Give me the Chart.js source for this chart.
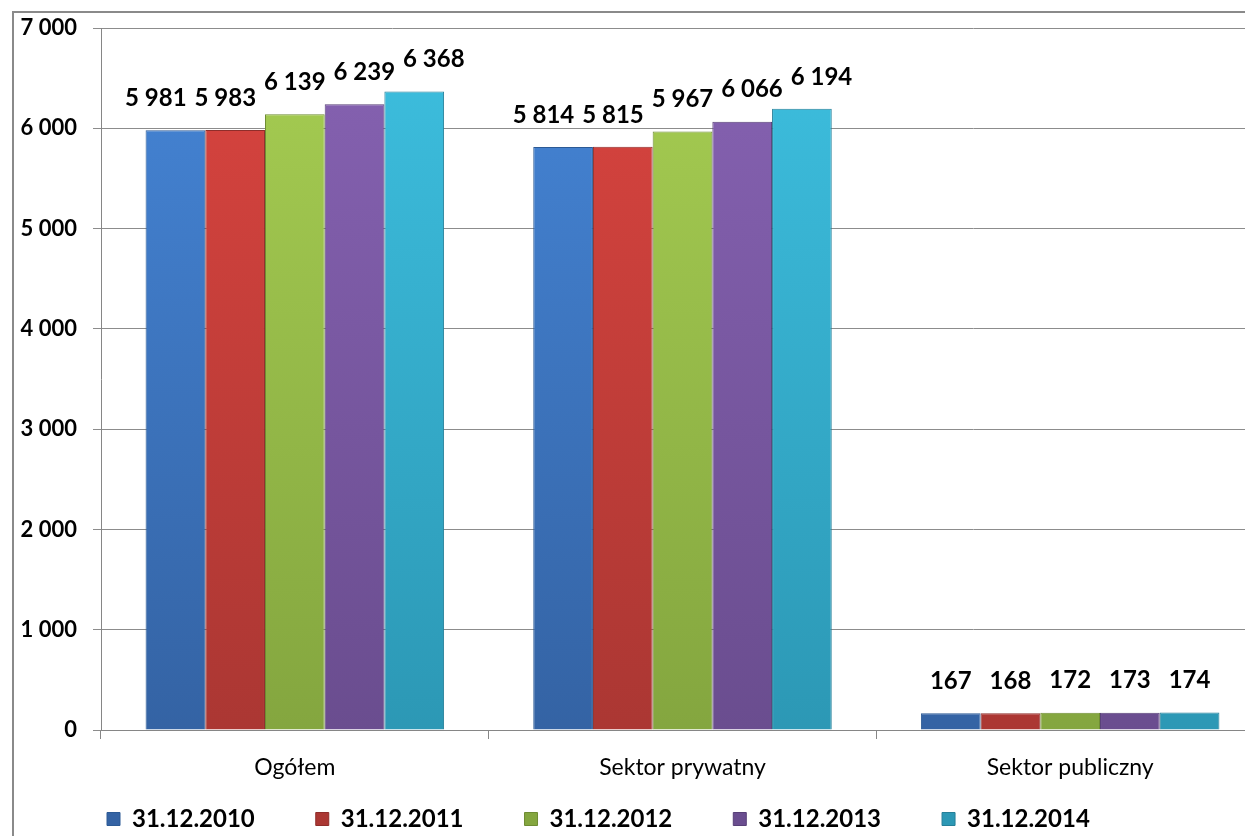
<!DOCTYPE html>
<html>
<head>
<meta charset="utf-8">
<script src="https://cdn.jsdelivr.net/npm/chart.js@4/dist/chart.umd.min.js"></script>
<style>
    html, body { margin: 0; padding: 0; background: #fff; overflow: hidden; width: 1245px; height: 836px; }
    #frame { position: absolute; left: 12px; top: 11px; width: 1300px; height: 900px;
             border-left: 2px solid #8a8a8a; border-top: 2px solid #8a8a8a; }
    #wrap { position: absolute; left: 14px; top: 13px; width: 1250px; height: 823px; }
</style>
</head>
<body>
<div id="frame"></div>
<div id="wrap"><canvas id="chart"></canvas></div>
<script>
const categories = ['Ogółem', 'Sektor prywatny', 'Sektor publiczny'];
const seriesNames = ['31.12.2010', '31.12.2011', '31.12.2012', '31.12.2013', '31.12.2014'];
const values2010 = [5981, 5814, 167];
const values2011 = [5983, 5815, 168];
const values2012 = [6139, 5967, 172];
const values2013 = [6239, 6066, 173];
const values2014 = [6368, 6194, 174];
const yMax = 7000;
const yStep = 1000;

// light (top) / dark (bottom) tones of each series
const tones = [
    ['#4585d6', '#3463a4'],
    ['#d9443f', '#ab3733'],
    ['#a6cd52', '#84a63f'],
    ['#8662b2', '#6a4d8f'],
    ['#3dbfdf', '#2c98b5']
];
const borders = ['#2c5a95', '#8f2d2a', '#6e8c33', '#573f77', '#257f98'];

function fmt(v) {
    return String(v).replace(/\B(?=(\d{3})+(?!\d))/g, ' ');
}

function barFill(i) {
    return function(context) {
        const area = context.chart.chartArea;
        if (!area) return tones[i][0];
        const g = context.chart.ctx.createLinearGradient(0, area.top, 0, area.bottom);
        g.addColorStop(0, tones[i][0]);
        g.addColorStop(1, tones[i][1]);
        return g;
    };
}

const allValues = [values2010, values2011, values2012, values2013, values2014];

// value labels above bars, spread sideways inside a group when they would touch
const valueLabels = {
    id: 'valueLabels',
    afterDatasetsDraw(chart) {
        const ctx = chart.ctx;
        const xScale = chart.scales.x;
        const n = chart.data.datasets.length;
        ctx.save();
        ctx.font = 'bold 24px Lato';
        ctx.fillStyle = '#000';
        ctx.textAlign = 'center';
        ctx.textBaseline = 'middle';
        chart.data.labels.forEach((cat, j) => {
            const center = xScale.getPixelForValue(j);
            const bars = [];
            for (let i = 0; i < n; i++) bars.push(chart.getDatasetMeta(i).data[j]);
            const texts = bars.map((b, i) => fmt(chart.data.datasets[i].data[j]));
            const widest = Math.max(...texts.map(t => ctx.measureText(t).width));
            const step = bars[1].x - bars[0].x;
            const spread = Math.max(1, (widest + 8) / step);
            bars.forEach((bar, i) => {
                ctx.fillText(texts[i], center + (bar.x - center) * spread, bar.y - 32);
            });
        });
        ctx.restore();
    }
};

const legendPlace = {
    id: 'legendPlace',
    afterLayout(chart) {
        chart.legend.left = 32;
        chart.legend.top = 733;
    }
};

new Chart(document.getElementById('chart'), {
    type: 'bar',
    data: {
        labels: categories,
        datasets: allValues.map((vals, i) => ({
            label: seriesNames[i],
            data: vals,
            backgroundColor: barFill(i),
            borderColor: borders[i],
            borderWidth: 1,
            categoryPercentage: 0.77,
            barPercentage: 1.0
        }))
    },
    options: {
        responsive: true,
        maintainAspectRatio: false,
        animation: false,
        layout: { padding: { top: 15, left: 0, right: 0, bottom: 0 } },
        plugins: {
            tooltip: { enabled: false },
            legend: {
                position: 'bottom',
                align: 'start',
                maxHeight: 50,
                labels: {
                    boxWidth: 13,
                    boxHeight: 13,
                    padding: 61,
                    color: '#000',
                    font: { family: 'Lato', size: 24, weight: 'bold' }
                }
            }
        },
        scales: {
            x: {
                afterFit: s => { s.height = 56; },
                grid: { display: true, offset: true, drawOnChartArea: false, tickLength: 9, color: '#868686' },
                border: { display: true, color: '#868686' },
                ticks: { color: '#000', padding: 15, font: { family: 'Lato', size: 23 } }
            },
            y: {
                min: 0,
                max: yMax,
                afterFit: s => { s.width = 87; s.paddingTop = 15; },
                grid: { color: '#8c8c8c', tickLength: 8 },
                border: { display: true, color: '#868686' },
                ticks: {
                    stepSize: yStep,
                    padding: 16,
                    color: '#000',
                    font: { family: 'Lato', size: 22, weight: 'bold' },
                    callback: v => fmt(v)
                }
            }
        }
    },
    plugins: [valueLabels, legendPlace]
});
</script>
</body>
</html>
